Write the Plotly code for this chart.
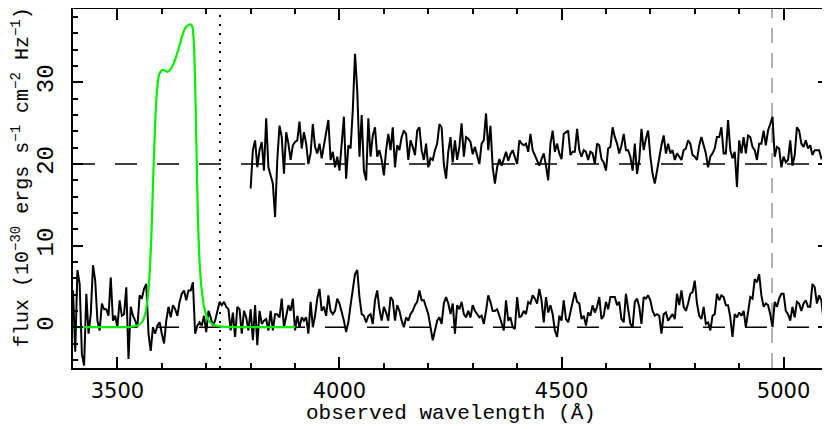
import plotly.graph_objects as go

# ---------------- data ----------------
step = 5  # Angstrom per spectral bin
bottom_start = 3400
top_start = 3800

flux_bottom = [
    4.5, -3.0, 7.0, 5.3, -3.3, -4.7, 4.1, -0.8, 1.6, 7.6,
    5.7, 0.8, -0.4, 2.9, 2.2, 2.2, 1.4, 6.1, 0.8, 1.4,
    0.0, 3.3, 1.4, 1.6, 4.9, -3.9, 2.5, 1.4, 0.8, 0.0,
    3.9, 3.5, 4.7, 5.3, -0.8, -2.9, 0.0, -0.8, 0.2, 0.6,
    -0.8, -2.0, 0.8, 2.5, 1.2, 2.7, 2.2, 1.4, 3.1, 4.1,
    4.5, 3.3, 4.5, 4.5, 5.5, -0.8, 0.2, 0.6, 0.2, 1.4,
    -0.6, 2.0, 1.2, 0.2, 0.8, 1.8, 3.1, 2.7, 3.1, 2.5,
    2.2, -0.4, 1.8, -1.2, 2.5, 2.2, -0.8, 2.0, 1.2, -0.4,
    2.2, -1.6, 2.7, -2.2, 2.0,
    0.4, 0.8, 1.0, -0.4, 2.0, -0.4, 1.6, 1.6, 1.2, 3.5,
    0.0, 1.6, 2.7, 2.0, 3.5, -0.4, 1.4, 0.0, 1.2, 0.8,
    1.2, -0.8, 3.1, 0.0, 1.4, 3.5, 4.7, 2.0, 2.5, 1.4,
    3.9, 2.0, 1.6, 2.0, 3.5, 2.9, 2.0, 0.8, -0.6, 0.6,
    2.7, 4.5, 6.5, 7.0, 3.7, 1.6, 1.4, 0.6, 1.4, 1.6,
    0.4, 3.3, 4.5, 2.2, 0.8, 2.5, 1.8, 0.8, 3.7, 3.3,
    0.8, 2.7, 2.0, 0.8, 0.0, 1.2, 0.8, 1.6, 2.0, 2.7,
    3.1, 4.5, 3.3, 3.3, 2.5, 1.6, 0.0, -1.6, -0.4, 0.8,
    1.2, 0.4, 2.9, 3.7, 2.9,
    1.6, 2.9, -0.8, 2.7, 2.2, 3.1, 1.6, 1.2, 2.0, 1.2,
    2.7, 2.0, 1.6, 1.2, 1.4, 0.4, 2.0, 3.9, 3.1, 2.0,
    2.0, 2.2, 1.4, 0.6, -0.4, 3.3, 0.8, 1.2, 0.0, -0.2,
    3.7, 1.2, 1.4, 2.0, 1.6, 3.1, 2.9, 3.9, 3.5, 2.9,
    4.7, 3.3, 0.6, 3.7, 1.8, 2.7, 1.6, -0.4, -1.2, 1.4,
    0.8, 3.3, 1.0, 0.6, 1.8, 3.3, 4.3, 3.1, 2.9, 1.0,
    1.4, 0.2, 1.8, 1.4, 2.7, 1.8, 2.5, 3.7, 1.0, 1.4,
    3.1, 2.2, 3.7, 3.7, 3.7, 2.7, 3.1, 1.0, 0.6, 4.1,
    2.2, 0.4, 0.0, 3.1, 3.5,
    2.5, 0.4, 3.7, 3.5, 3.9, 3.3, 2.0, 1.4, 1.6, 1.4,
    -0.8, 1.6, 1.8, 0.8, 1.2, 1.6, 1.0, 4.1, 2.7, 4.5,
    2.5, 2.0, 2.9, 4.1, 4.3, 5.7, 2.9, 1.4, 1.0, 2.5,
    0.4, 0.6, -0.4, 1.4, 1.6, 4.1, 3.3, 3.9, 3.7, 2.7,
    2.7, 1.2, -1.2, 1.6, 1.2, 1.8, 1.4, 2.0, 0.0, 1.6,
    3.7, 3.5, 5.9, 5.5, 6.5, 3.9, 2.5, 2.9, 2.7, 1.6,
    0.0, 3.1, 2.5, 3.5, 4.1, 4.1, 2.0, 1.6, 0.8, 2.5,
    1.2, 3.1, 2.9, 2.0, 2.9, 3.3, 2.5, 2.5, 5.3, 4.9,
    2.9, 3.9, 3.3, 0.8, 1.6, 2.5,
]

flux_top = [
    17.0, 21.7, 22.9, 19.6, 21.7, 22.7, 19.2, 25.6, 19.6, 18.4,
    17.6, 13.5, 20.5, 24.7, 23.3, 18.8, 23.9, 22.5, 20.5, 22.3,
    22.7, 22.9, 25.2, 21.9, 23.9, 22.5, 20.0, 21.3, 24.9, 22.1,
    21.3, 22.5, 20.7, 22.3, 23.9, 25.4, 20.5, 21.5, 19.6, 20.9,
    19.2, 22.9, 25.8, 18.2, 22.3, 21.9, 26.6, 33.5, 29.0, 20.9,
    26.0, 19.2, 18.0, 25.6, 20.9, 23.5, 24.5, 20.9, 21.7, 20.5,
    18.6, 21.7, 23.7, 21.7, 24.5, 19.6, 22.3, 21.7, 23.3, 24.1,
    23.7, 20.5, 22.9, 22.1, 21.1, 24.1, 24.5, 21.7, 20.5, 22.5,
    19.6, 20.7, 20.5, 21.7, 22.5, 24.9,
    24.5, 20.0, 18.2, 21.5, 23.3, 20.2, 22.9, 20.5, 22.1, 25.0,
    20.9, 23.3, 23.1, 22.7, 21.2, 22.1, 20.9, 20.0, 22.5, 22.9,
    26.2, 21.7, 24.7, 19.6, 17.6, 19.6, 20.6, 19.8, 20.6, 21.5,
    20.4, 21.2, 21.7, 20.7, 20.0, 22.9, 22.5, 22.3, 22.5, 21.5,
    23.7, 21.7, 21.1, 20.5, 19.8, 20.6, 21.3, 19.8, 18.0, 22.5,
    24.1, 21.5, 22.5, 21.3, 20.6, 23.7, 23.9, 24.1, 21.1, 21.5,
    21.5, 24.3, 21.7, 20.9, 21.7, 21.5, 20.5, 21.5, 21.3, 20.0,
    22.5, 22.3, 20.6, 20.2, 19.2, 21.9, 22.1, 24.5, 23.3, 22.5,
    21.3, 22.3, 23.7, 21.7, 21.7,
    20.9, 19.2, 22.5, 18.8, 20.5, 24.3, 21.7, 23.1, 24.1, 20.9,
    18.8, 17.6, 19.2, 20.9, 22.3, 23.5, 21.3, 22.5, 21.3, 21.7,
    20.5, 21.3, 20.9, 20.5, 21.7, 21.9, 22.9, 22.5, 21.1, 20.9,
    20.5, 22.3, 23.3, 22.1, 21.3, 19.6, 20.9, 21.3, 21.9, 23.3,
    23.3, 24.5, 21.3, 21.3, 25.4, 21.7, 20.7, 21.5, 17.2, 22.9,
    21.3, 23.3, 21.3, 23.5, 23.3, 22.1, 21.7, 20.5, 22.5, 22.5,
    24.1, 22.3, 24.1, 24.9, 25.8, 20.9, 22.1, 21.9, 19.6, 20.9,
    20.2, 20.5, 22.9, 19.8, 21.1, 24.5, 24.1, 22.5, 22.1, 22.9,
    21.9, 22.3, 21.1, 21.7, 21.7, 21.7, 20.7, 20.9, 20.0, 20.5,
]

filter_wave = [3400, 3500, 3530, 3545, 3555, 3562, 3568, 3573, 3577, 3581,
               3585, 3589, 3594, 3600, 3606, 3612, 3618, 3624, 3630, 3637,
               3645, 3652, 3659, 3665, 3669, 3672, 3675, 3678, 3681, 3685,
               3690, 3697, 3705, 3715, 3730, 3760, 3900]
filter_resp = [0, 0, 0.05, 0.2, 0.6, 1.5, 3.5, 7, 12, 19,
               25, 29, 31, 31.5, 31.5, 31.3, 31.5, 32.0, 32.8, 34.0,
               35.5, 36.6, 37.0, 37.1, 36.8, 35, 30, 22, 14, 8,
               4.5, 2.0, 0.9, 0.35, 0.1, 0.02, 0]

baselines = [0, 20]
line_oii = 3731
line_marker = 4974
x_range = [3400, 5100]
y_range = [-5, 39]
x_ticks = [3500, 4000, 4500, 5000]
y_ticks = [0, 10, 20, 30]

wave_bottom = [bottom_start + step * i for i in range(len(flux_bottom))]
wave_top = [top_start + step * i for i in range(len(flux_top))]

# ---------------- figure ----------------
fig = go.Figure()

for b in baselines:
    fig.add_trace(go.Scatter(x=x_range, y=[b, b], mode="lines",
                             line=dict(color="black", width=1.6, dash="22px,20px"),
                             hoverinfo="skip"))

fig.add_trace(go.Scatter(x=[line_oii, line_oii], y=y_range, mode="lines",
                         line=dict(color="black", width=2, dash="2px,7px"),
                         hoverinfo="skip"))
fig.add_trace(go.Scatter(x=[line_marker, line_marker], y=y_range, mode="lines",
                         line=dict(color="#808080", width=1.2, dash="15px,10px"),
                         hoverinfo="skip"))

fig.add_trace(go.Scatter(x=wave_bottom, y=flux_bottom, mode="lines",
                         line=dict(color="black", width=2)))
fig.add_trace(go.Scatter(x=filter_wave, y=filter_resp, mode="lines",
                         line=dict(color="rgb(0,240,0)", width=2.2, shape="spline", smoothing=0.6)))
fig.add_trace(go.Scatter(x=wave_top, y=flux_top, mode="lines",
                         line=dict(color="black", width=2)))

axis_common = dict(showline=True, linewidth=2, linecolor="black", mirror="ticks",
                   ticks="inside", tickcolor="black", tickwidth=1.5,
                   showgrid=False, zeroline=False, automargin=False)

fig.update_xaxes(range=x_range, tickvals=x_ticks, ticklen=11,
                 minor=dict(ticks="inside", dtick=100, ticklen=5, tickcolor="black", tickwidth=1.5),
                 tickfont=dict(family="DejaVu Sans", size=21, color="black"),
                 ticklabelstandoff=3, **axis_common)
fig.update_yaxes(range=y_range, tickvals=y_ticks, ticklen=10, tickangle=-90,
                 minor=dict(ticks="inside", dtick=2, ticklen=5, tickcolor="black", tickwidth=1.5),
                 tickfont=dict(family="Liberation Mono", size=24, color="black"),
                 ticklabelstandoff=8, **axis_common)

fig.add_annotation(text="observed wavelength (Å)", xref="paper", yref="paper",
                   x=0.5, y=0, xanchor="center", yanchor="top", yshift=-33,
                   showarrow=False, borderpad=0,
                   font=dict(family="Liberation Mono", size=21, color="black"))
fig.add_annotation(text="flux (10<sup>−30</sup> ergs s<sup>−1</sup> cm<sup>−2</sup> Hz<sup>−1</sup>)",
                   xref="paper", yref="paper", x=0, y=0.532, xshift=-52,
                   xanchor="center", yanchor="middle", textangle=-90,
                   showarrow=False,
                   font=dict(family="Liberation Mono", size=20, color="black"))

# the page body adds an 8px offset, so the figure is sized to fit the window
fig.update_layout(width=822, height=421, margin=dict(l=65, r=2, t=1, b=61),
                  plot_bgcolor="white", paper_bgcolor="white", showlegend=False)

fig.write_html("out.html")
